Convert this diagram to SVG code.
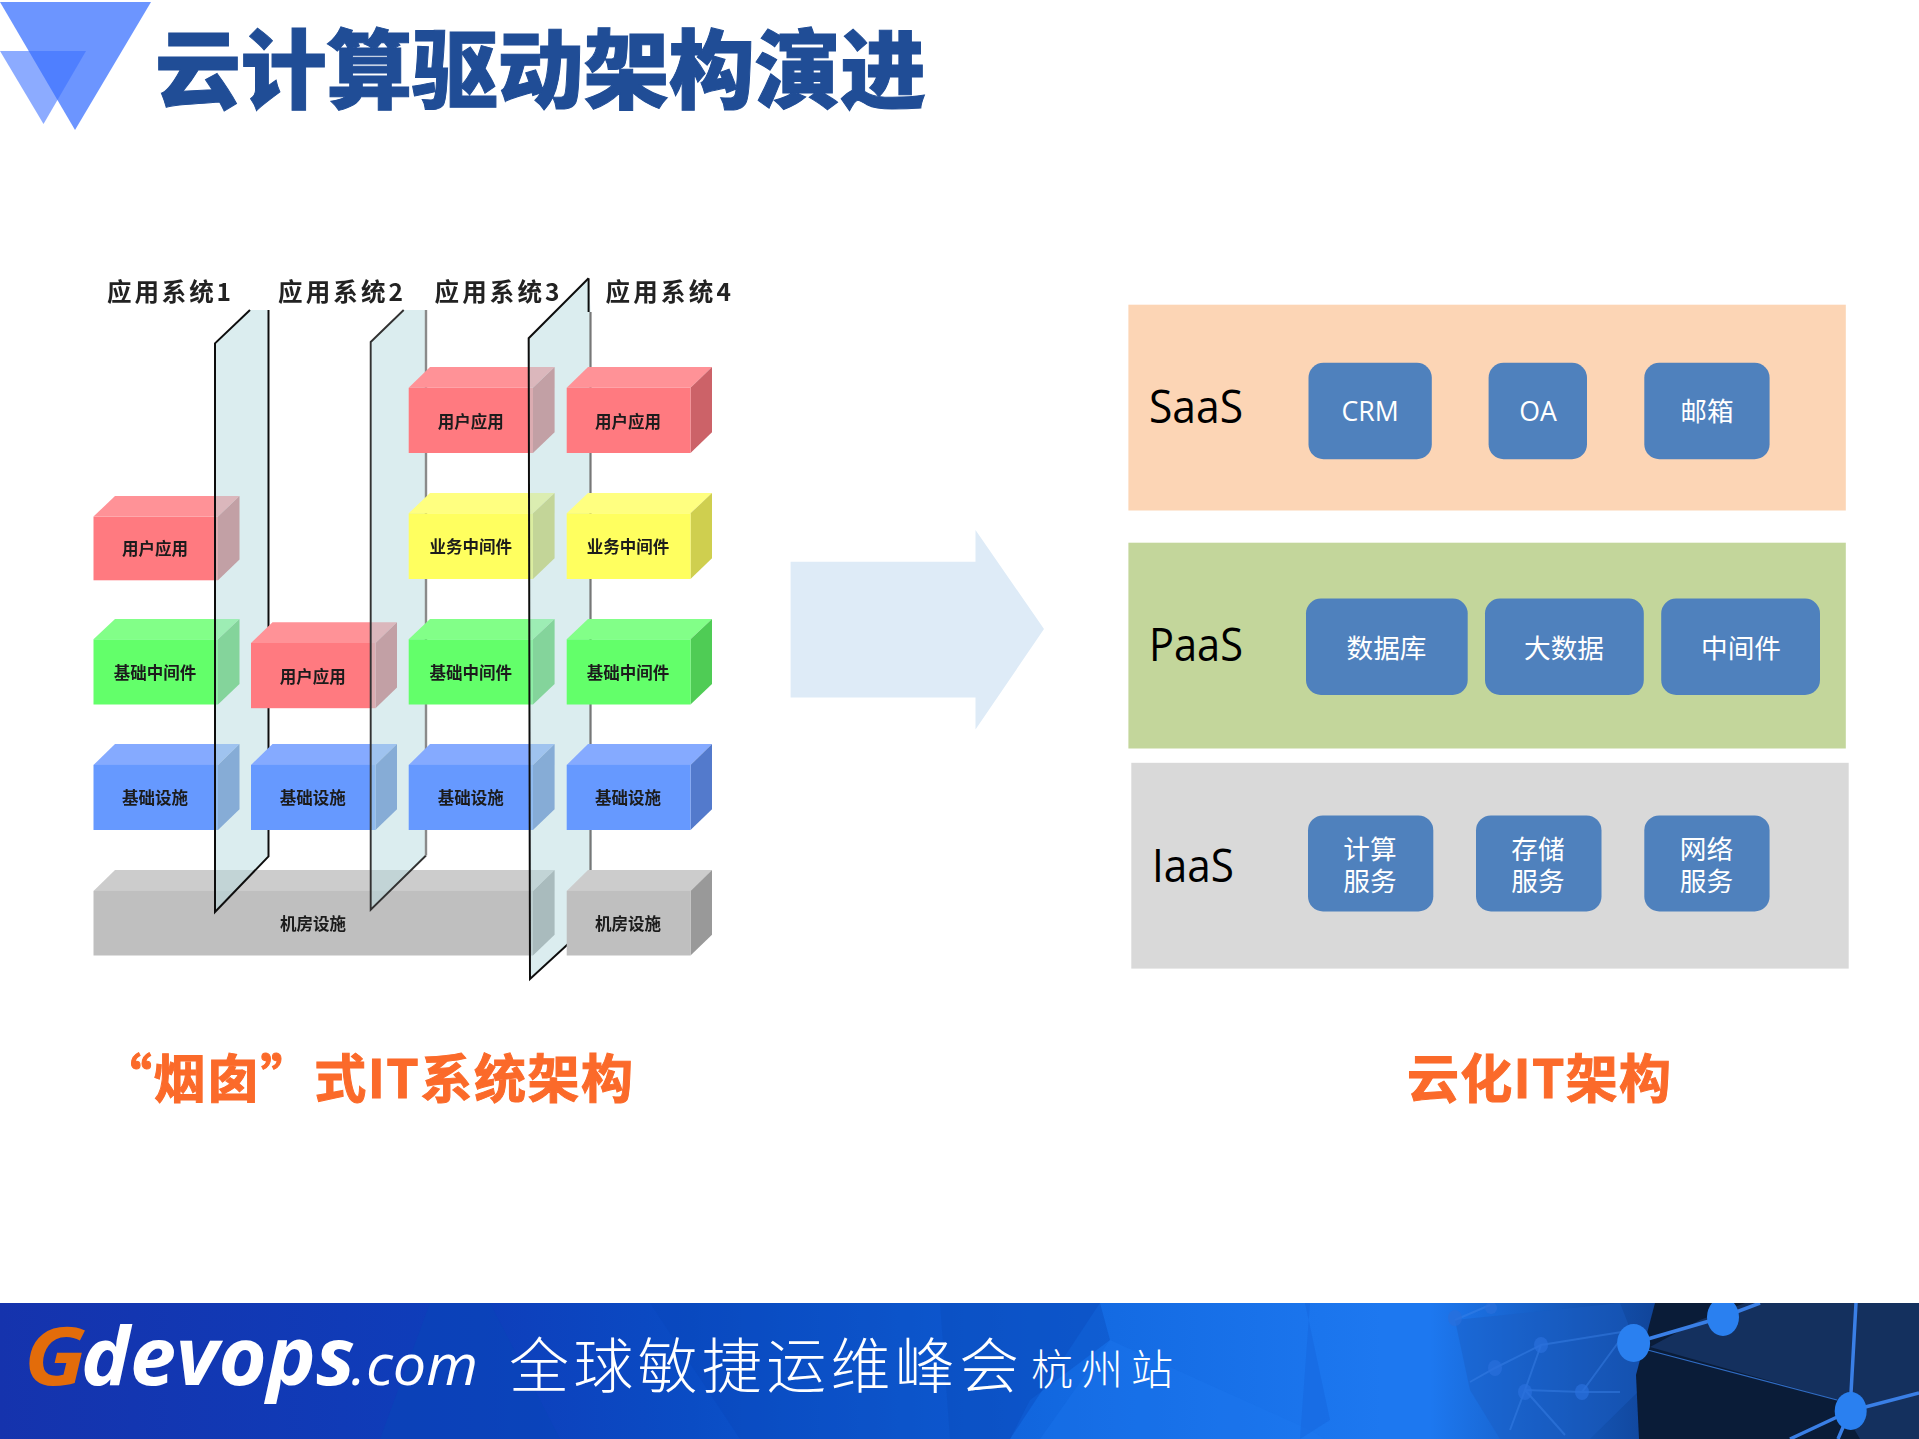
<svg xmlns="http://www.w3.org/2000/svg" width="1919" height="1439" viewBox="0 0 1919 1439">
<style>
text{font-family:"Noto Sans CJK SC","Noto Sans",sans-serif}
.lat{font-family:"Open Sans","Noto Sans CJK SC",sans-serif}
.blk{font-size:16.5px;font-weight:700;fill:#1a1a1a;text-anchor:middle}
.top{font-size:24.5px;font-weight:700;fill:#222}
.btn{fill:#4f81bd}
.bt{font-size:26.67px;fill:#fff;text-anchor:middle}
.lay{font-size:46px;fill:#000}
.cap{font-size:52px;font-weight:700;fill:#fb6a2a;stroke:#fb6a2a;stroke-width:1}
.pl{fill:#b8dce0;fill-opacity:.51}
.r .f{fill:#ff7a80}.r .t{fill:#ff9297}.r .s{fill:#cc6268}
.y .f{fill:#ffff5f}.y .t{fill:#ffff80}.y .s{fill:#cfcf4f}
.g .f{fill:#63ff6b}.g .t{fill:#82ff88}.g .s{fill:#4fcc55}
.b .f{fill:#6699ff}.b .t{fill:#85aaff}.b .s{fill:#527acc}
.k .f{fill:#bfbfbf}.k .t{fill:#cccccc}.k .s{fill:#999999}
</style>
<defs>
<filter id="soft" x="-2%" y="-2%" width="104%" height="104%"><feGaussianBlur stdDeviation="0.7"/></filter>
<clipPath id="band"><rect x="0" y="1303" width="1919" height="136"/></clipPath>
<linearGradient id="bn" x1="0" x2="1" y1="0" y2="0">
<stop offset="0" stop-color="#1533ad"/><stop offset=".25" stop-color="#0e3ebb"/><stop offset=".36" stop-color="#0a4cc4"/><stop offset=".55" stop-color="#1268e0"/><stop offset=".72" stop-color="#1d78f0"/><stop offset="1" stop-color="#1d78f0"/>
</linearGradient>
<linearGradient id="fade" x1="0" x2="1" y1="0" y2="0">
<stop offset="0" stop-color="#0f3f90" stop-opacity="0"/><stop offset="1" stop-color="#0f3f90" stop-opacity=".9"/>
</linearGradient>
</defs>

<g id="header">
<polygon points="0,2 151,2 75,130" fill="#6c95ff"/>
<polygon points="0,51 86,51 43.5,124" fill="#3b71ff" fill-opacity=".59"/>
<text x="155" y="102" font-size="86" font-weight="900" fill="#204d96" stroke="#204d96" stroke-width="1" textLength="771" lengthAdjust="spacing">云计算驱动架构演进</text>
</g>

<g id="silo-diagram" filter="url(#soft)">
<text class="top" x="107" y="301" textLength="124">应用系统1</text>
<text class="top" x="278" y="301" textLength="125">应用系统2</text>
<text class="top" x="434.5" y="301" textLength="125">应用系统3</text>
<text class="top" x="605.5" y="301" textLength="125.5">应用系统4</text>

<g id="infra-room" class="k"><polygon class="t" points="93.5,890.9 115,870 554.6,870 533,890.9"/><polygon class="s" points="533,890.9 554.6,870 554.6,934.7 533,955.5"/><rect class="f" x="93.5" y="890.9" width="439.5" height="64.6"/><text class="blk" x="313" y="930.4">机房设施</text></g>

<g id="s1-app" class="r"><polygon class="t" points="93.5,516.6 115,495.9 239.5,495.9 218,516.6"/><polygon class="s" points="218,516.6 239.5,495.9 239.5,559.6 218,580.3"/><rect class="f" x="93.5" y="516.6" width="124.5" height="63.7"/><text class="blk" x="155" y="555">用户应用</text></g>
<g id="s1-mid" class="g"><polygon class="t" points="93.5,639.3 115,619 239.5,619 218,639.3"/><polygon class="s" points="218,639.3 239.5,619 239.5,684 218,704.5"/><rect class="f" x="93.5" y="639.3" width="124.5" height="65.2"/><text class="blk" x="155" y="679">基础中间件</text></g>
<g id="s1-inf" class="b"><polygon class="t" points="93.5,764.9 115,744 239.5,744 218,764.9"/><polygon class="s" points="218,764.9 239.5,744 239.5,809.2 218,830"/><rect class="f" x="93.5" y="764.9" width="124.5" height="65.1"/><text class="blk" x="155" y="804.4">基础设施</text></g>

<g id="plane1"><polygon class="pl" points="250,310 215,343.4 215,912 268.5,856.4 268.5,310"/><path d="M250,310 215,343.4V912L268.5,856.4V310" fill="none" stroke="#111" stroke-width="2"/></g>

<g id="s2-app" class="r"><polygon class="t" points="251,643 272.5,622.3 397,622.3 375.5,643"/><polygon class="s" points="375.5,643 397,622.3 397,687.5 375.5,708.2"/><rect class="f" x="251" y="643" width="124.5" height="65.2"/><text class="blk" x="312.7" y="682.6">用户应用</text></g>
<g id="s2-inf" class="b"><polygon class="t" points="251,764.9 272.5,744 397,744 375.5,764.9"/><polygon class="s" points="375.5,764.9 397,744 397,809.2 375.5,830"/><rect class="f" x="251" y="764.9" width="124.5" height="65.1"/><text class="blk" x="312.7" y="804.4">基础设施</text></g>

<g id="plane2"><polygon class="pl" points="403.7,310 370.7,342 370.7,909.8 426,855.5 426,310"/><path d="M403.7,310 370.7,342V909.8L426,855.5" fill="none" stroke="#333" stroke-width="1.9"/><path d="M426,855.5V310" fill="none" stroke="#8a8a8a" stroke-width="2.4"/></g>

<g id="s3-app" class="r"><polygon class="t" points="408.7,387.8 430,367 554.6,367 533,387.8"/><polygon class="s" points="533,387.8 554.6,367 554.6,432.2 533,453"/><rect class="f" x="408.7" y="387.8" width="124.3" height="65.2"/><text class="blk" x="470.7" y="428">用户应用</text></g>
<g id="s3-biz" class="y"><polygon class="t" points="408.7,513.3 430,493 554.6,493 533,513.3"/><polygon class="s" points="533,513.3 554.6,493 554.6,558.2 533,579"/><rect class="f" x="408.7" y="513.3" width="124.3" height="65.7"/><text class="blk" x="470.7" y="553.3">业务中间件</text></g>
<g id="s3-mid" class="g"><polygon class="t" points="408.7,639.3 430,619 554.6,619 533,639.3"/><polygon class="s" points="533,639.3 554.6,619 554.6,684 533,704.5"/><rect class="f" x="408.7" y="639.3" width="124.3" height="65.2"/><text class="blk" x="470.7" y="679">基础中间件</text></g>
<g id="s3-inf" class="b"><polygon class="t" points="408.7,764.9 430,744 554.6,744 533,764.9"/><polygon class="s" points="533,764.9 554.6,744 554.6,809.2 533,830"/><rect class="f" x="408.7" y="764.9" width="124.3" height="65.1"/><text class="blk" x="470.7" y="804.4">基础设施</text></g>

<g id="plane3"><polygon class="pl" points="588.6,278.3 528.7,338.2 530,979 592,922 590.5,310"/><path d="M588.6,278.3 528.7,338.2 530,979 592,922" fill="none" stroke="#111" stroke-width="2"/><path d="M588.6,278.3V312" fill="none" stroke="#111" stroke-width="2"/><path d="M590.5,312V922" fill="none" stroke="#777" stroke-width="2.2"/></g>

<g id="s4-app" class="r"><polygon class="t" points="566.7,387.8 588,367 712,367 690.5,387.8"/><polygon class="s" points="690.5,387.8 712,367 712,432.2 690.5,453"/><rect class="f" x="566.7" y="387.8" width="123.8" height="65.2"/><text class="blk" x="628" y="428">用户应用</text></g>
<g id="s4-biz" class="y"><polygon class="t" points="566.7,513.3 588,493 712,493 690.5,513.3"/><polygon class="s" points="690.5,513.3 712,493 712,558.2 690.5,579"/><rect class="f" x="566.7" y="513.3" width="123.8" height="65.7"/><text class="blk" x="628" y="553.3">业务中间件</text></g>
<g id="s4-mid" class="g"><polygon class="t" points="566.7,639.3 588,619 712,619 690.5,639.3"/><polygon class="s" points="690.5,639.3 712,619 712,684 690.5,704.5"/><rect class="f" x="566.7" y="639.3" width="123.8" height="65.2"/><text class="blk" x="628" y="679">基础中间件</text></g>
<g id="s4-inf" class="b"><polygon class="t" points="566.7,764.9 588,744 712,744 690.5,764.9"/><polygon class="s" points="690.5,764.9 712,744 712,809.2 690.5,830"/><rect class="f" x="566.7" y="764.9" width="123.8" height="65.1"/><text class="blk" x="628" y="804.4">基础设施</text></g>
<g id="s4-room" class="k"><polygon class="t" points="566.7,890.9 588,870 712,870 690.5,890.9"/><polygon class="s" points="690.5,890.9 712,870 712,934.7 690.5,955.5"/><rect class="f" x="566.7" y="890.9" width="123.8" height="64.6"/><text class="blk" x="628" y="930.4">机房设施</text></g>
</g>

<g id="connectors">
<polygon points="790.6,561.7 975.5,561.7 975.5,530 1044,629 975.5,729.6 975.5,697.6 790.6,697.6" fill="#deebf7"/>
</g>

<g id="saas">
<rect x="1128.4" y="304.7" width="717.4" height="205.8" fill="#fcd5b5"/>
<text class="lay lat" x="1149" y="423" textLength="94" lengthAdjust="spacingAndGlyphs">SaaS</text>
<g id="crm"><rect class="btn" x="1308.5" y="362.8" width="123.3" height="96.4" rx="15"/><text class="bt lat" x="1370" y="421">CRM</text></g>
<g id="oa"><rect class="btn" x="1488.6" y="362.8" width="98.4" height="96.4" rx="15"/><text class="bt lat" x="1538" y="421">OA</text></g>
<g id="mail"><rect class="btn" x="1644.3" y="362.8" width="125.3" height="96.4" rx="15"/><text class="bt" x="1707" y="421">邮箱</text></g>
</g>
<g id="paas">
<rect x="1128.4" y="542.7" width="717.4" height="205.8" fill="#c3d69b"/>
<text class="lay lat" x="1149" y="660.5" textLength="94" lengthAdjust="spacingAndGlyphs">PaaS</text>
<g id="db"><rect class="btn" x="1306" y="598.5" width="161.7" height="96.4" rx="15"/><text class="bt" x="1386.5" y="657.6">数据库</text></g>
<g id="bigdata"><rect class="btn" x="1485" y="598.5" width="158.8" height="96.4" rx="15"/><text class="bt" x="1564" y="657.6">大数据</text></g>
<g id="middleware"><rect class="btn" x="1661.2" y="598.5" width="158.8" height="96.4" rx="15"/><text class="bt" x="1741" y="657.6">中间件</text></g>
</g>
<g id="iaas">
<rect x="1131.3" y="762.8" width="717.4" height="205.8" fill="#d9d9d9"/>
<text class="lay lat" x="1152" y="881.5" textLength="82" lengthAdjust="spacingAndGlyphs">IaaS</text>
<g id="compute"><rect class="btn" x="1308" y="815.4" width="125.3" height="96" rx="15"/><text class="bt"><tspan x="1370" y="858.5">计算</tspan><tspan x="1370" y="890.6">服务</tspan></text></g>
<g id="storage"><rect class="btn" x="1476" y="815.4" width="125.5" height="96" rx="15"/><text class="bt"><tspan x="1538" y="858.5">存储</tspan><tspan x="1538" y="890.6">服务</tspan></text></g>
<g id="network"><rect class="btn" x="1644.3" y="815.4" width="125.3" height="96" rx="15"/><text class="bt"><tspan x="1706.5" y="858.5">网络</tspan><tspan x="1706.5" y="890.6">服务</tspan></text></g>
</g>

<text class="cap" x="100" y="1098" textLength="533" lengthAdjust="spacing">“烟囱”式IT系统架构</text>
<text class="cap" x="1407" y="1098" textLength="264" lengthAdjust="spacing">云化IT架构</text>

<g id="footer">
<rect x="0" y="1303" width="1919" height="136" fill="url(#bn)"/>
<g clip-path="url(#band)">
<polygon points="430,1303 490,1303 560,1439 380,1439" fill="#0a45b8" fill-opacity=".55"/>
<polygon points="650,1303 1100,1303 1010,1439 740,1439" fill="#0a45b8" fill-opacity=".35"/>
<polygon points="940,1303 1100,1303 1110,1340 1030,1400 1010,1439 950,1439" fill="#0a4abc" fill-opacity=".4"/>
<polygon points="1110,1340 1310,1430 1325,1439 1040,1439" fill="#1f7af2" fill-opacity=".25"/>
<polygon points="1305,1303 1330,1420 1300,1439 1310,1303" fill="#1565dd" fill-opacity=".5"/>
<rect x="1430" y="1303" width="225" height="136" fill="url(#fade)"/>
<polygon points="1455,1320 1620,1303 1650,1380 1590,1439 1500,1439 1470,1390" fill="#1a5ec4" fill-opacity=".45"/>
<g fill="none" stroke="#3c82e8" stroke-opacity=".45" stroke-width="2">
<path d="M1455,1320 1490,1305M1470,1382 1495,1368 1541,1345 1634,1330M1541,1345 1525,1390 1510,1430M1525,1390 1582,1392 1620,1392M1525,1390 1565,1435M1582,1392 1620,1340"/>
</g>
<g fill="#2a6fdc" fill-opacity=".7">
<ellipse cx="1541" cy="1345" rx="7" ry="8"/><ellipse cx="1495" cy="1368" rx="7" ry="8"/><ellipse cx="1525" cy="1392" rx="7" ry="8"/><ellipse cx="1582" cy="1392" rx="7" ry="8"/><ellipse cx="1455" cy="1318" rx="7" ry="8"/><ellipse cx="1491" cy="1308" rx="6" ry="6"/>
</g>
<polygon points="1655,1303 1919,1303 1919,1439 1639,1439 1636,1375" fill="#0a1c38"/>
<polygon points="1650,1347 1700,1320 1745,1303 1919,1303 1919,1439 1860,1439 1837,1400" fill="#14305e"/>
<g fill="none" stroke="#3a7fe6">
<path d="M1634,1343 1723,1317 1760,1303M1856,1303 1850,1411M1850,1411 1919,1393M1850,1411 1790,1439M1850,1411 1838,1439" stroke-width="3.5"/>
<path d="M1640,1348 1837,1400" stroke-width="1.2" stroke-opacity=".8"/>
</g>
<g fill="#2a80f0">
<ellipse cx="1633.6" cy="1343" rx="16.5" ry="19"/><ellipse cx="1723" cy="1317" rx="16" ry="19"/><ellipse cx="1850.7" cy="1411" rx="16" ry="19"/>
</g>
</g>
<text x="24" y="1385" font-size="80" font-weight="700" font-style="italic" fill="#e36c0a" textLength="62" lengthAdjust="spacingAndGlyphs" style="font-family:'Open Sans','Liberation Sans',sans-serif">G</text>
<text x="81" y="1385" font-size="80" font-weight="700" font-style="italic" fill="#fff" textLength="274" lengthAdjust="spacingAndGlyphs" style="font-family:'Open Sans','Liberation Sans',sans-serif">devops</text>
<text x="351" y="1385" font-size="56" font-style="italic" fill="#fff" textLength="127" lengthAdjust="spacingAndGlyphs" style="font-family:'Open Sans','Liberation Sans',sans-serif">.com</text>
<text x="509" y="1388" font-size="60" font-weight="300" fill="#fff" textLength="510" lengthAdjust="spacing">全球敏捷运维峰会</text>
<text x="1031" y="1385" font-size="42" font-weight="300" fill="#fff" textLength="142" lengthAdjust="spacing">杭州站</text>
</g>
</svg>
